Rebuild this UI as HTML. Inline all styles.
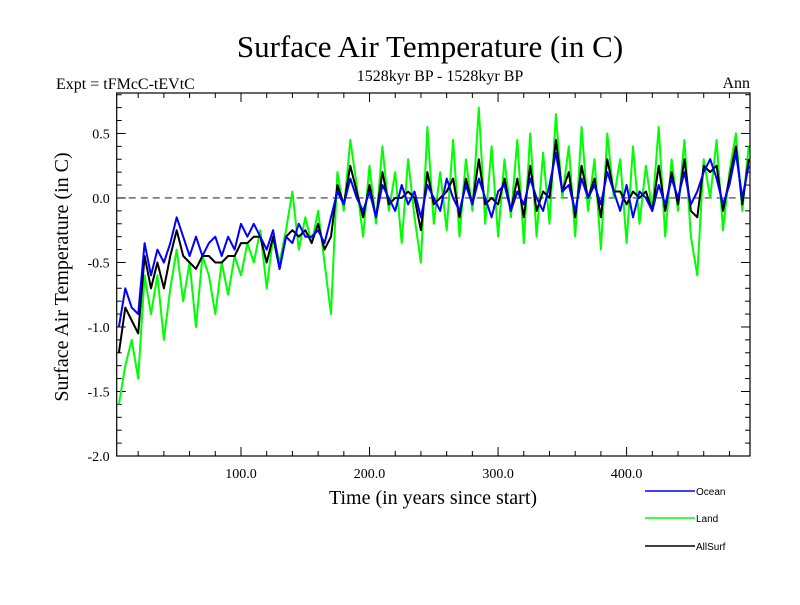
<!DOCTYPE html>
<html><head><meta charset="utf-8">
<style>
body{margin:0;background:#fff;}
svg text{font-family:"Liberation Serif",serif;fill:#000;}
</style></head>
<body>
<svg id="chart" width="800" height="600" viewBox="0 0 800 600">
<text x="430" y="57" font-size="31" text-anchor="middle">Surface Air Temperature (in C)</text>
<text x="56" y="89" font-size="16">Expt = tFMcC-tEVtC</text>
<text x="440" y="81" font-size="16" text-anchor="middle">1528kyr BP - 1528kyr BP</text>
<text x="750" y="88" font-size="16" text-anchor="end">Ann</text>
<text transform="translate(68,277) rotate(-90)" font-size="20" text-anchor="middle">Surface Air Temperature (in C)</text>
<text x="433" y="504" font-size="20" text-anchor="middle">Time (in years since start)</text>
<g id="axes"></g>
<g id="series"></g>
<rect x="116.7" y="93" width="633.3" height="363" fill="none" stroke="#000" stroke-width="1.2"/>
<g font-family="Liberation Sans" >
<line x1="645" y1="491" x2="695" y2="491" stroke="#0000ff" stroke-width="1.5"/>
<text x="696" y="495" font-size="10" style="font-family:'Liberation Sans',sans-serif">Ocean</text>
<line x1="645" y1="518" x2="695" y2="518" stroke="#00ff00" stroke-width="1.5"/>
<text x="696" y="522" font-size="10" style="font-family:'Liberation Sans',sans-serif">Land</text>
<line x1="645" y1="546" x2="695" y2="546" stroke="#000" stroke-width="1.5"/>
<text x="696" y="550" font-size="10" style="font-family:'Liberation Sans',sans-serif">AllSurf</text>
</g>
</svg>
<script>
const years=[5,10,15,20,25,30,35,40,45,50,55,60,65,70,75,80,85,90,95,100,105,110,115,120,125,130,135,140,145,150,155,160,165,170,175,180,185,190,195,200,205,210,215,220,225,230,235,240,245,250,255,260,265,270,275,280,285,290,295,300,305,310,315,320,325,330,335,340,345,350,355,360,365,370,375,380,385,390,395,400,405,410,415,420,425,430,435,440,445,450,455,460,465,470,475,480,485,490,495];
const ocean=[-1.0,-0.7,-0.85,-0.9,-0.35,-0.6,-0.4,-0.5,-0.35,-0.15,-0.3,-0.45,-0.3,-0.45,-0.35,-0.3,-0.45,-0.3,-0.4,-0.2,-0.3,-0.2,-0.3,-0.4,-0.25,-0.55,-0.3,-0.35,-0.2,-0.3,-0.3,-0.25,-0.35,-0.15,0.05,-0.05,0.15,0.0,-0.1,0.05,-0.15,0.1,0.0,-0.1,0.1,-0.05,0.05,-0.15,0.1,0.0,-0.1,0.15,0.0,-0.1,0.1,-0.05,0.15,0.0,-0.15,0.05,0.1,-0.1,0.05,-0.05,0.15,0.0,-0.1,0.1,0.35,0.05,0.1,-0.1,0.15,0.0,0.1,-0.05,0.2,0.05,-0.1,0.1,-0.15,0.05,0.0,-0.1,0.1,-0.05,0.15,0.0,0.2,-0.05,0.05,0.2,0.3,0.15,-0.05,0.1,0.35,0.0,0.25];
const land=[-1.6,-1.3,-1.1,-1.4,-0.6,-0.9,-0.6,-1.1,-0.7,-0.4,-0.8,-0.5,-1.0,-0.45,-0.6,-0.9,-0.5,-0.75,-0.45,-0.6,-0.35,-0.5,-0.25,-0.7,-0.3,-0.5,-0.25,0.05,-0.4,-0.15,-0.35,-0.1,-0.5,-0.9,0.2,-0.1,0.45,0.1,-0.3,0.25,-0.2,0.4,-0.1,0.2,-0.35,0.3,-0.15,-0.5,0.55,-0.2,0.2,-0.25,0.45,-0.3,0.3,-0.1,0.7,-0.2,0.4,-0.3,0.3,-0.15,0.45,-0.35,0.5,-0.3,0.35,-0.2,0.65,0.0,0.4,-0.3,0.55,-0.1,0.3,-0.4,0.5,0.0,0.3,-0.35,0.4,-0.2,0.25,-0.1,0.55,-0.3,0.3,-0.1,0.45,-0.3,-0.6,0.3,0.0,0.45,-0.25,0.2,0.5,-0.1,0.4];
const allsurf=[-1.2,-0.85,-0.95,-1.05,-0.45,-0.7,-0.5,-0.7,-0.45,-0.25,-0.45,-0.5,-0.55,-0.45,-0.45,-0.5,-0.5,-0.45,-0.45,-0.35,-0.35,-0.3,-0.3,-0.5,-0.3,-0.55,-0.3,-0.25,-0.3,-0.25,-0.35,-0.2,-0.4,-0.3,0.1,-0.05,0.25,0.05,-0.15,0.1,-0.15,0.2,-0.05,0.0,0.0,0.05,0.0,-0.25,0.2,-0.05,0.0,0.05,0.15,-0.15,0.15,-0.05,0.3,-0.05,0.0,-0.05,0.15,-0.1,0.15,-0.15,0.25,-0.1,0.05,0.0,0.45,0.05,0.2,-0.15,0.25,0.0,0.15,-0.15,0.3,0.05,0.05,-0.05,0.05,0.0,0.05,-0.1,0.25,-0.1,0.2,-0.05,0.3,-0.1,-0.15,0.25,0.2,0.25,-0.1,0.15,0.4,-0.05,0.3];
const yTicks=[0.5,0.0,-0.5,-1.0,-1.5,-2.0];
const xTicks=[100,200,300,400];

const X0=116.7,X1=750,Y0=93,Y1=456,XMIN=3.3,XMAX=496,YMIN=-2.0,YMAX=0.8134;
const xs=v=>X0+(v-XMIN)/(XMAX-XMIN)*(X1-X0);
const ys=v=>Y1-(v-YMIN)/(YMAX-YMIN)*(Y1-Y0);
const NS="http://www.w3.org/2000/svg";
const axes=document.getElementById('axes');
const series=document.getElementById('series');
function mk(tag,attrs,parent){const e=document.createElementNS(NS,tag);for(const k in attrs)e.setAttribute(k,attrs[k]);parent.appendChild(e);return e;}
// y minor ticks
for(let i=-20;i<=8;i++){const v=i/10;const y=ys(v);const major=(i%5===0);
 const t=mk('line',{x1:X0,x2:X0+(major?9:5),y1:y,y2:y,stroke:'#000'},axes);
 
 
 const t2=mk('line',{x1:X1,x2:X1-(major?9:5),y1:y,y2:y,stroke:'#000'},axes);
 
 }
yTicks.forEach(v=>{const t=mk('text',{x:X0-7,y:ys(v)+5,'font-size':14,'text-anchor':'end'},axes);t.textContent=v.toFixed(1);
 
 });
for(let v=20;v<=480;v+=20){const x=xs(v);const major=(v%100===0);
 const t=mk('line',{x1:x,x2:x,y1:Y1,y2:Y1-(major?9:5),stroke:'#000'},axes);
 
 
 const t2=mk('line',{x1:x,x2:x,y1:Y0,y2:Y0+(major?9:5),stroke:'#000'},axes);
 
 }
xTicks.forEach(v=>{const t=mk('text',{x:xs(v),y:Y1+22,'font-size':14,'text-anchor':'middle'},axes);t.textContent=v.toFixed(1);
 
 });
const zl=mk('line',{x1:X0,x2:X1,y1:ys(0),y2:ys(0),stroke:'#000','stroke-dasharray':'7,5','stroke-width':0.8},axes);


function line(vals,color,name){const d=vals.map((v,i)=>(i?'L':'M')+xs(years[i]).toFixed(1)+','+ys(v).toFixed(1)).join('');
 const p=mk('path',{d:d,fill:'none',stroke:color,'stroke-width':2,'stroke-linejoin':'round'},series);
 
 }
line(land,'#00ff00','land-line');
line(allsurf,'#000000','allsurf-line');
line(ocean,'#0000ff','ocean-line');
</script>
</body></html>
